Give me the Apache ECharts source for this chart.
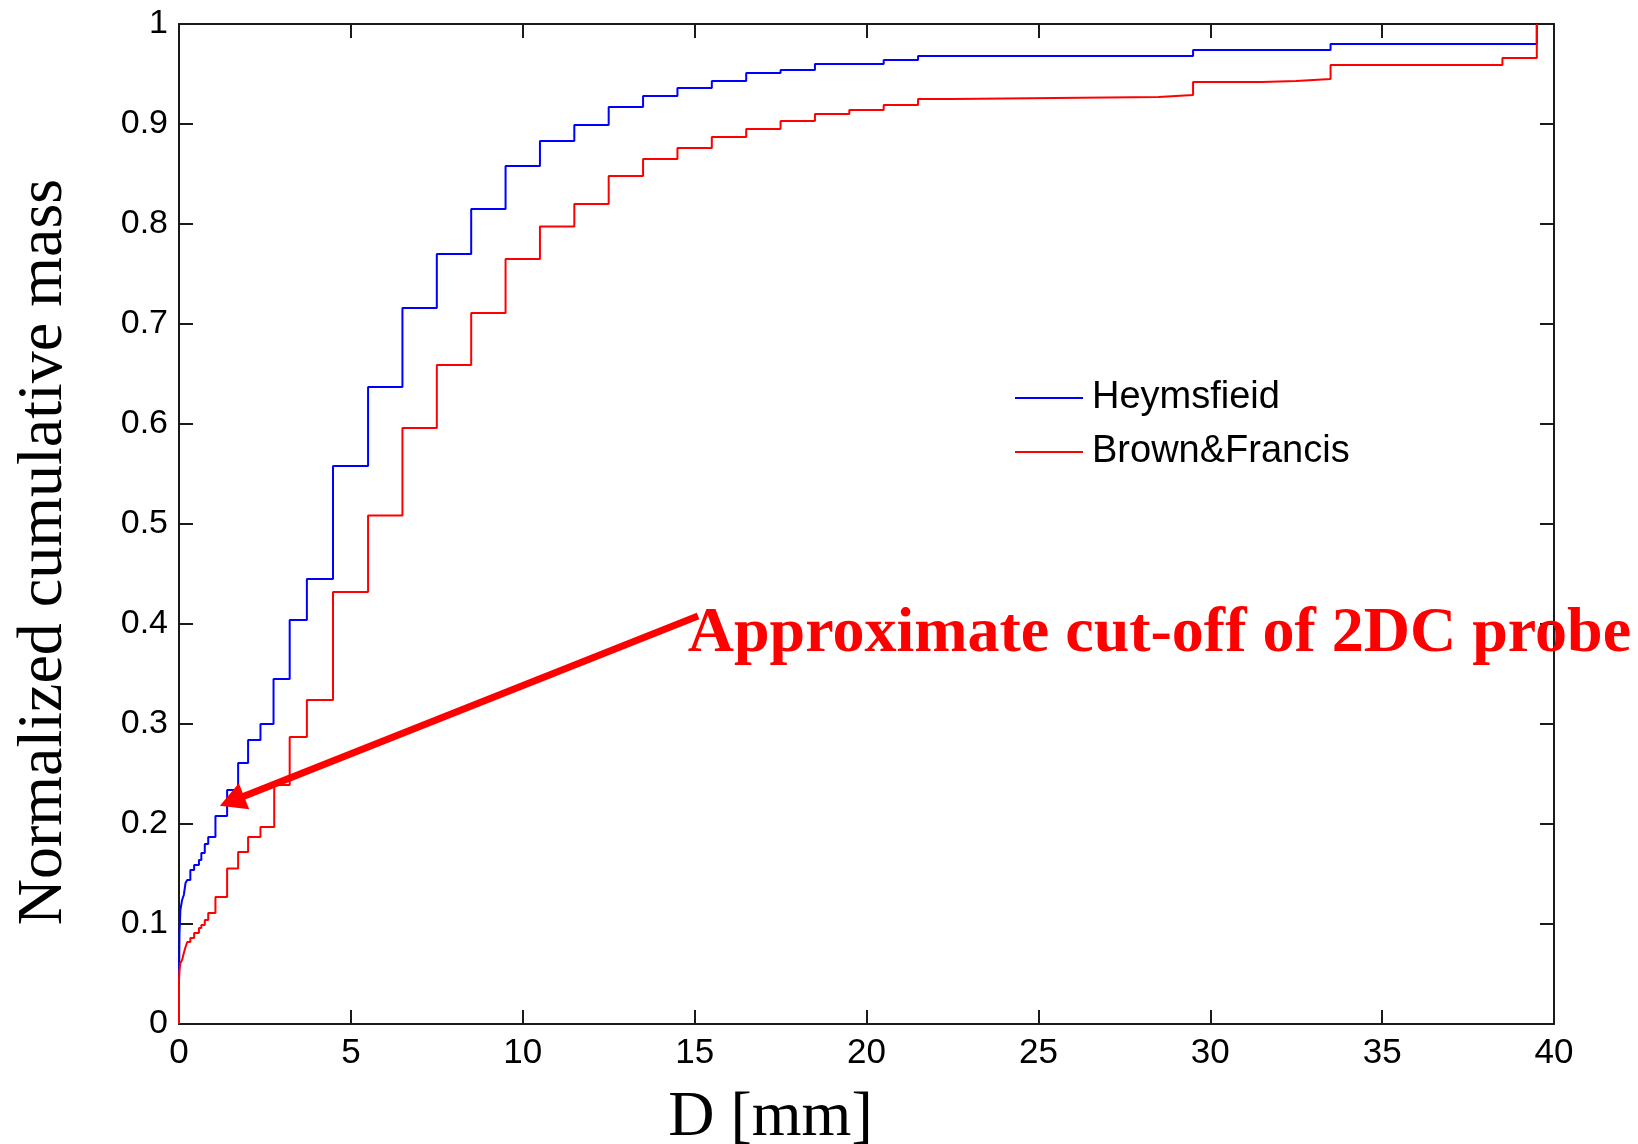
<!DOCTYPE html>
<html>
<head>
<meta charset="utf-8">
<title>Normalized cumulative mass</title>
<script src="https://cdn.jsdelivr.net/npm/echarts@6/dist/echarts.min.js"></script>
<style>
  html, body { margin: 0; padding: 0; background: #ffffff; }
  #chart { width: 1638px; height: 1144px; }
</style>
</head>
<body>
<div id="chart"></div>
<script>
// Cumulative mass steps: each D marks where the curve jumps to the paired value
const heymsD = [0, 0, 0.015, 0.04, 0.09, 0.14, 0.19, 0.24, 0.33, 0.44,
  0.58, 0.65, 0.75, 0.85, 1.06, 1.40, 1.72, 2.01, 2.37, 2.75,
  3.22, 3.72, 4.48, 5.5, 6.5, 7.5, 8.5, 9.5, 10.5, 11.5,
  12.5, 13.5, 14.5, 15.5, 16.5, 17.5, 18.5, 20.5, 21.5, 29.5,
  33.5, 39.5];
const heymsM = [0, 0.044, 0.091, 0.114, 0.124, 0.129, 0.141, 0.144, 0.154, 0.159,
  0.164, 0.171, 0.180, 0.187, 0.208, 0.234, 0.261, 0.284, 0.300, 0.345,
  0.404, 0.445, 0.558, 0.637, 0.716, 0.770, 0.815, 0.858, 0.883, 0.899,
  0.917, 0.928, 0.936, 0.943, 0.951, 0.954, 0.960, 0.964, 0.968, 0.974,
  0.980, 1.0];

const brownD = [0, 0, 0.015, 0.04, 0.09, 0.14, 0.19, 0.24, 0.33, 0.44,
  0.58, 0.65, 0.75, 0.85, 1.06, 1.40, 1.72, 2.01, 2.37, 2.77,
  3.22, 3.72, 4.48, 5.5, 6.5, 7.5, 8.5, 9.5, 10.5, 11.5,
  12.5, 13.5, 14.5, 15.5, 16.5, 17.5, 18.5, 19.5, 20.5, 21.5,
  22.5, 28.5, 29.5, 31.5, 32.5, 33.5, 38.5, 39.5];
const brownM = [0, 0.044, 0.054, 0.061, 0.064, 0.071, 0.077, 0.082, 0.086, 0.091,
  0.096, 0.099, 0.104, 0.111, 0.127, 0.1555, 0.172, 0.187, 0.197, 0.239,
  0.287, 0.324, 0.432, 0.5085, 0.596, 0.659, 0.711, 0.765, 0.7975, 0.820,
  0.848, 0.865, 0.876, 0.887, 0.895, 0.903, 0.910, 0.914, 0.919, 0.925,
  0.927, 0.929, 0.942, 0.943, 0.945, 0.959, 0.966, 1.0];

const seriesNames = ['Heymsfieid', 'Brown&Francis'];
const xTicks = [0, 5, 10, 15, 20, 25, 30, 35, 40];
const yTicks = [0, 0.1, 0.2, 0.3, 0.4, 0.5, 0.6, 0.7, 0.8, 0.9, 1];

// Annotation: arrow from the label towards the probe cut-off, in data units
const cutoffText = 'Approximate cut-off of 2DC probe';
const arrowTail = [15.1, 0.408];
const arrowHead = [1.54, 0.223];
const textAnchor = [14.8, 0.390];

const toPairs = (xs, ys) => xs.map((x, i) => [x, ys[i]]);

const sansFont = '"Liberation Sans", Arial, Helvetica, sans-serif';
const serifFont = '"Liberation Serif", "Times New Roman", serif';
const axisColor = '#1a1a1a';

const chart = echarts.init(document.getElementById('chart'), null, { renderer: 'canvas' });

const boxAxis = (extra) => Object.assign({
  type: 'value',
  axisLine: { show: true, onZero: false, lineStyle: { color: axisColor, width: 2 } },
  axisTick: { show: true, inside: true, length: 14, lineStyle: { color: axisColor, width: 2 } },
  splitLine: { show: false }
}, extra);

chart.setOption({
  animation: false,
  backgroundColor: '#ffffff',
  grid: { left: 179, right: 84, top: 24, bottom: 120, containLabel: false, outerBoundsMode: 'none' },
  legend: {
    orient: 'vertical',
    left: 1015,
    top: 378,
    padding: 0,
    icon: 'rect',
    itemWidth: 68,
    itemHeight: 2,
    itemGap: 14,
    data: seriesNames,
    textStyle: { fontFamily: sansFont, fontSize: 38, color: '#000', lineHeight: 40, padding: [0, 0, 0, 4] }
  },
  xAxis: [
    boxAxis({
      min: xTicks[0], max: xTicks[xTicks.length - 1], interval: 5,
      position: 'bottom',
      name: 'D [mm]',
      nameLocation: 'middle',
      nameGap: 62,
      nameTextStyle: { fontFamily: serifFont, fontSize: 64, color: '#000', padding: [0, 192, 0, 0] },
      axisLabel: { show: true, margin: 12, fontFamily: sansFont, fontSize: 35, color: '#000' }
    }),
    boxAxis({
      min: xTicks[0], max: xTicks[xTicks.length - 1], interval: 5,
      position: 'top',
      axisLabel: { show: false }
    })
  ],
  yAxis: [
    boxAxis({
      min: yTicks[0], max: yTicks[yTicks.length - 1], interval: 0.1,
      position: 'left',
      name: 'Normalized cumulative mass',
      nameLocation: 'middle',
      nameGap: 103,
      nameTextStyle: { fontFamily: serifFont, fontSize: 64, color: '#000', padding: [0, 56, 0, 0] },
      axisLabel: {
        show: true, margin: 11, fontFamily: sansFont, fontSize: 34, color: '#000',
        formatter: (v) => (v === 0 || v === 1) ? String(v) : v.toFixed(1)
      }
    }),
    boxAxis({
      min: yTicks[0], max: yTicks[yTicks.length - 1], interval: 0.1,
      position: 'right',
      axisLabel: { show: false }
    })
  ],
  series: [
    {
      name: seriesNames[0],
      type: 'line',
      step: 'end',
      symbol: 'none',
      xAxisIndex: 0, yAxisIndex: 0,
      data: toPairs(heymsD, heymsM),
      lineStyle: { color: '#0000ff', width: 2 },
      itemStyle: { color: '#0000ff' },
      z: 2
    },
    {
      name: seriesNames[1],
      type: 'line',
      step: 'end',
      symbol: 'none',
      xAxisIndex: 0, yAxisIndex: 0,
      data: toPairs(brownD, brownM),
      lineStyle: { color: '#ff0000', width: 2 },
      itemStyle: { color: '#ff0000' },
      z: 3,
      markLine: {
        silent: true,
        animation: false,
        symbol: ['none', 'triangle'],
        symbolSize: [28, 26],
        label: { show: false },
        lineStyle: { color: '#ff0000', width: 7, type: 'solid', opacity: 1 },
        itemStyle: { color: '#ff0000' },
        emphasis: { disabled: true },
        data: [[{ coord: arrowTail }, { coord: arrowHead }]]
      }
    }
  ]
});

// Place the annotation label beside the arrow tail
const anchorPx = chart.convertToPixel({ xAxisIndex: 0, yAxisIndex: 0 }, textAnchor);
chart.setOption({
  graphic: [{
    type: 'text',
    x: anchorPx[0],
    y: anchorPx[1],
    z: 10,
    style: {
      text: cutoffText,
      fill: '#ff0000',
      font: 'bold 64px ' + serifFont,
      textAlign: 'left',
      textVerticalAlign: 'middle'
    }
  }]
});
</script>
</body>
</html>
